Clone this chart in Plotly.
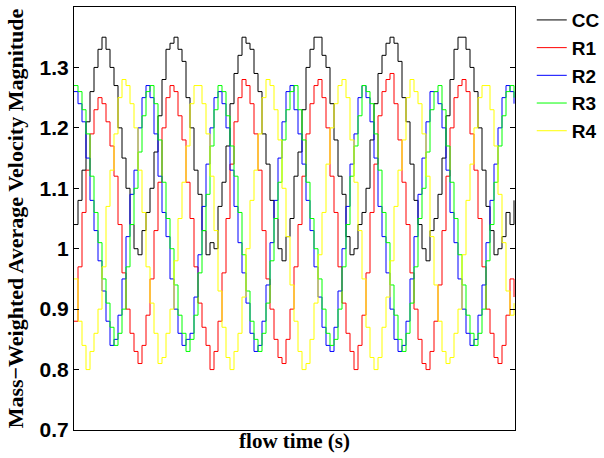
import plotly.graph_objects as go

# sample index along flow time (each step one time sample)
cc = [
    1.04, 1.08, 1.13, 1.21, 1.26, 1.30, 1.33, 1.35, 1.33, 1.30, 1.27, 1.20, 1.15, 1.10, 1.04, 1.00, 0.99, 1.03,
    1.06, 1.10, 1.16, 1.22, 1.28, 1.33, 1.34, 1.35, 1.33, 1.31, 1.25, 1.20, 1.13, 1.09, 1.03, 0.99, 1.01, 1.00,
    1.07, 1.11, 1.17, 1.24, 1.29, 1.32, 1.35, 1.34, 1.33, 1.29, 1.26, 1.19, 1.14, 1.08, 1.05, 1.00, 0.98, 1.02,
    1.05, 1.12, 1.16, 1.23, 1.30, 1.33, 1.35, 1.35, 1.32, 1.30, 1.24, 1.18, 1.12, 1.09, 1.02, 0.99, 1.00, 1.04,
    1.06, 1.10, 1.18, 1.24, 1.29, 1.32, 1.34, 1.35, 1.34, 1.31, 1.25, 1.21, 1.14, 1.08, 1.04, 1.00, 0.98, 1.03,
    1.05, 1.09, 1.15, 1.22, 1.28, 1.33, 1.35, 1.35, 1.33, 1.30, 1.26, 1.20, 1.13, 1.07, 1.03, 0.99, 1.00, 1.02,
    1.06, 1.04, 1.08,
]
r1 = [
    0.88, 0.97, 1.06, 1.13, 1.19, 1.23, 1.25, 1.24, 1.21, 1.17, 1.12, 1.04, 0.96, 0.90, 0.86, 0.83, 0.81, 0.84,
    0.89, 0.95, 1.03, 1.11, 1.20, 1.25, 1.27, 1.26, 1.22, 1.18, 1.11, 1.05, 0.97, 0.91, 0.87, 0.84, 0.80, 0.83,
    0.88, 0.96, 1.05, 1.14, 1.21, 1.25, 1.28, 1.27, 1.24, 1.19, 1.13, 1.03, 0.95, 0.90, 0.85, 0.82, 0.81, 0.85,
    0.90, 0.97, 1.04, 1.12, 1.19, 1.24, 1.27, 1.28, 1.25, 1.20, 1.12, 1.06, 0.97, 0.91, 0.86, 0.83, 0.80, 0.84,
    0.89, 0.96, 1.06, 1.14, 1.22, 1.26, 1.28, 1.29, 1.24, 1.18, 1.11, 1.04, 0.96, 0.90, 0.85, 0.81, 0.80, 0.83,
    0.88, 0.94, 1.03, 1.12, 1.20, 1.25, 1.27, 1.28, 1.26, 1.19, 1.13, 1.05, 0.97, 0.90, 0.86, 0.82, 0.81, 0.84,
    0.89, 0.95, 0.92,
]
r2 = [
    1.26, 1.24, 1.21, 1.15, 1.08, 1.03, 0.98, 0.93, 0.88, 0.84, 0.85, 0.89, 0.95, 1.02, 1.09, 1.13, 1.20, 1.25,
    1.27, 1.25, 1.19, 1.12, 1.06, 1.02, 0.95, 0.90, 0.86, 0.84, 0.85, 0.86, 0.92, 0.99, 1.07, 1.14, 1.20, 1.25,
    1.26, 1.24, 1.20, 1.13, 1.07, 1.01, 0.96, 0.91, 0.86, 0.83, 0.84, 0.88, 0.94, 1.01, 1.08, 1.15, 1.21, 1.26,
    1.27, 1.23, 1.19, 1.14, 1.08, 1.03, 0.97, 0.92, 0.87, 0.84, 0.83, 0.87, 0.93, 1.00, 1.07, 1.14, 1.19, 1.25,
    1.27, 1.25, 1.21, 1.15, 1.07, 1.02, 0.96, 0.90, 0.85, 0.83, 0.84, 0.88, 0.95, 1.02, 1.09, 1.15, 1.21, 1.26,
    1.26, 1.24, 1.20, 1.13, 1.06, 1.01, 0.95, 0.90, 0.86, 0.84, 0.85, 0.89, 0.94, 1.01, 1.08, 1.14, 1.20, 1.25,
    1.27, 1.26, 1.24,
]
r3 = [
    1.27, 1.26, 1.23, 1.19, 1.12, 1.06, 1.01, 0.95, 0.91, 0.87, 0.84, 0.86, 0.90, 0.97, 1.04, 1.10, 1.16, 1.22,
    1.26, 1.27, 1.24, 1.18, 1.11, 1.05, 1.00, 0.94, 0.89, 0.86, 0.83, 0.85, 0.89, 0.96, 1.03, 1.09, 1.17, 1.23,
    1.27, 1.26, 1.22, 1.17, 1.12, 1.06, 0.99, 0.93, 0.88, 0.85, 0.83, 0.86, 0.91, 0.98, 1.05, 1.11, 1.18, 1.23,
    1.26, 1.27, 1.23, 1.18, 1.11, 1.05, 1.00, 0.95, 0.90, 0.86, 0.84, 0.85, 0.90, 0.97, 1.04, 1.12, 1.17, 1.22,
    1.27, 1.26, 1.24, 1.19, 1.13, 1.06, 1.01, 0.94, 0.89, 0.85, 0.83, 0.86, 0.91, 0.97, 1.05, 1.10, 1.16, 1.23,
    1.26, 1.27, 1.23, 1.17, 1.11, 1.05, 0.99, 0.94, 0.89, 0.86, 0.84, 0.86, 0.90, 0.98, 1.04, 1.11, 1.17, 1.22,
    1.26, 1.27, 1.25,
]
r4 = [
    0.95, 0.88, 0.84, 0.80, 0.83, 0.86, 0.90, 0.97, 1.07, 1.13, 1.19, 1.25, 1.28, 1.27, 1.24, 1.20, 1.13, 1.06,
    0.97, 0.91, 0.86, 0.81, 0.82, 0.86, 0.90, 0.98, 1.05, 1.11, 1.17, 1.24, 1.27, 1.27, 1.24, 1.19, 1.12, 1.03,
    0.93, 0.87, 0.82, 0.80, 0.83, 0.86, 0.92, 1.00, 1.08, 1.13, 1.19, 1.25, 1.28, 1.27, 1.23, 1.18, 1.10, 1.02,
    0.94, 0.88, 0.83, 0.80, 0.81, 0.85, 0.91, 0.99, 1.06, 1.14, 1.20, 1.24, 1.27, 1.28, 1.25, 1.18, 1.11, 1.03,
    0.95, 0.87, 0.82, 0.80, 0.82, 0.87, 0.92, 0.98, 1.07, 1.13, 1.18, 1.25, 1.28, 1.26, 1.24, 1.19, 1.12, 1.02,
    0.94, 0.88, 0.83, 0.81, 0.82, 0.86, 0.90, 0.99, 1.08, 1.14, 1.20, 1.25, 1.27, 1.27, 1.23, 1.17, 1.09, 1.01,
    0.93, 0.89, 0.91,
]
series_names = ["CC", "R1", "R2", "R3", "R4"]
series_vals = [cc, r1, r2, r3, r4]
series_colors = ["#000000", "#ff0000", "#0000ff", "#00ff00", "#ffff00"]
y_ticks = [0.7, 0.8, 0.9, 1.0, 1.1, 1.2, 1.3]
y_tick_text = ["0.7", "0.8", "0.9", "1", "1.1", "1.2", "1.3"]

t = list(range(len(cc)))

fig = go.Figure()
for name, vals, col in zip(series_names, series_vals, series_colors):
    fig.add_trace(go.Scatter(x=t, y=vals, mode="lines", name="<b>%s</b>" % name,
                             line=dict(color=col, width=1, shape="hv")))

fig.update_layout(
    width=604, height=458,
    margin=dict(l=74, r=89, t=7, b=28, autoexpand=False),
    paper_bgcolor="white", plot_bgcolor="white",
    showlegend=True,
    legend=dict(x=1.038, y=1.014, xanchor="left", yanchor="top",
                font=dict(family="Liberation Sans", size=19, color="black"),
                bgcolor="rgba(0,0,0,0)", borderwidth=0, tracegroupgap=0),
)
fig.update_xaxes(range=[0, 110.25], showticklabels=False, ticks="", showgrid=False,
                 zeroline=False, showline=True, linecolor="black", linewidth=1, mirror=True,
                 automargin=False,
                 title=dict(text="<b>flow time (s)</b>",
                            font=dict(family="Liberation Serif", size=21, color="black"),
                            standoff=3))
fig.update_yaxes(range=[0.7, 1.4], tickvals=y_ticks, ticktext=y_tick_text,
                 ticks="inside", ticklen=5, tickcolor="black", showgrid=False, zeroline=False,
                 showline=True, linecolor="black", linewidth=1, mirror="ticks",
                 automargin=False,
                 tickfont=dict(family="Liberation Sans", size=21, color="black", weight="bold"),
                 title=dict(text="<b>Mass−Weighted Average Velocity Magnitude</b>",
                            font=dict(family="Liberation Serif", size=22, color="black"),
                            standoff=9))
fig.write_html("out.html", config={"displayModeBar": False},
               post_script="document.body.style.margin='0';document.body.style.overflow='hidden';")
